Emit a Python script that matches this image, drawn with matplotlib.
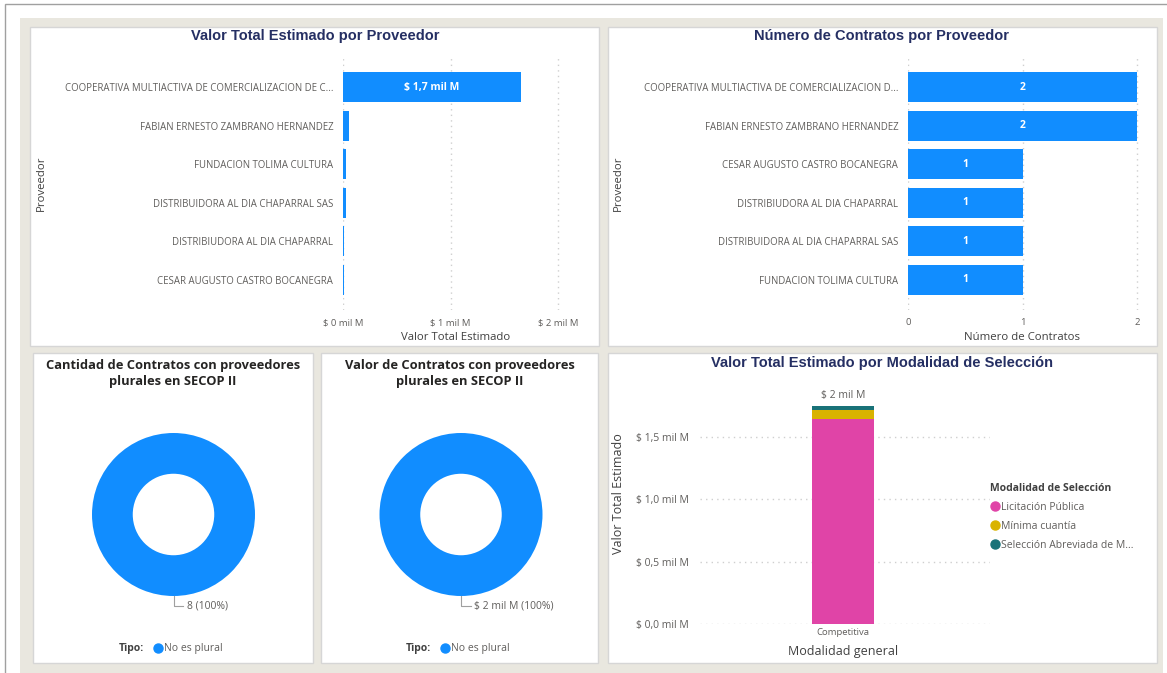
import matplotlib
matplotlib.use("Agg")
import matplotlib.pyplot as plt
from matplotlib.patches import Rectangle
from matplotlib.lines import Line2D
from matplotlib.legend import Legend
import numpy as np

# datos
proveedores_valor = ["COOPERATIVA MULTIACTIVA DE COMERCIALIZACION DE C...",
                     "FABIAN ERNESTO ZAMBRANO HERNANDEZ",
                     "FUNDACION TOLIMA CULTURA",
                     "DISTRIBUIDORA AL DIA CHAPARRAL SAS",
                     "DISTRIBIUDORA AL DIA CHAPARRAL",
                     "CESAR AUGUSTO CASTRO BOCANEGRA"]
valor_total = [1_655_000_000, 53_000_000, 25_000_000, 24_000_000, 8_000_000, 6_000_000]

proveedores_num = ["COOPERATIVA MULTIACTIVA DE COMERCIALIZACION D...",
                   "FABIAN ERNESTO ZAMBRANO HERNANDEZ",
                   "CESAR AUGUSTO CASTRO BOCANEGRA",
                   "DISTRIBIUDORA AL DIA CHAPARRAL",
                   "DISTRIBUIDORA AL DIA CHAPARRAL SAS",
                   "FUNDACION TOLIMA CULTURA"]
num_contratos = [2, 2, 1, 1, 1, 1]

modalidades = ["Licitación Pública", "Mínima cuantía", "Selección Abreviada de M..."]
modalidad_valor = [1_647_000_000, 72_000_000, 34_000_000]
modalidad_general = ["Competitiva"]

tipo_labels = ["No es plural"]
tipo_cantidad = [8]
tipo_valor = [1_753_000_000]

ticks_valor = [0, 1e9, 2e9]
ticks_num = [0, 1, 2]
ticks_mod = [0, 0.5e9, 1.0e9, 1.5e9]

# colores
AZUL = "#118DFF"
col_mod = ["#E044A7", "#D9B300", "#197278"]
BEIGE = "#E9E7DF"
GRIS = "#605E5C"
NAVY = "#252F63"
OSCURO = "#252423"

W, H = 1167, 673
plt.rcParams['font.family'] = ['Open Sans', 'DejaVu Sans']
fig = plt.figure(figsize=(W / 100, H / 100), dpi=100)


def px(x0, y0, x1, y1):
    # rect en pixeles (desde arriba) -> fraccion de figura
    return [x0 / W, 1 - y1 / H, (x1 - x0) / W, (y1 - y0) / H]


bg = fig.add_axes([0, 0, 1, 1])
bg.set_xlim(0, W)
bg.set_ylim(H, 0)
bg.axis("off")
bg.add_patch(Rectangle((5, 4), W, H, facecolor="white", edgecolor="#A0A0A0", lw=1))
bg.add_patch(Rectangle((20, 18), 1143, H, facecolor=BEIGE, edgecolor="none"))
paneles = [(30, 27, 599, 346), (608, 27, 1157, 346), (33, 353, 313, 663),
           (321, 353, 598, 663), (608, 353, 1157, 663)]
for (a, b, c, d) in paneles:
    bg.add_patch(Rectangle((a, b), c - a, d - b, facecolor="white", edgecolor="#D6D6D6", lw=1))

# titulos
bg.text(315, 36, "Valor Total Estimado por Proveedor", ha="center", va="center",
        fontsize=10.5, fontweight="bold", color=NAVY, family="Liberation Sans")
bg.text(882, 36, "Número de Contratos por Proveedor", ha="center", va="center",
        fontsize=10.5, fontweight="bold", color=NAVY, family="Liberation Sans")
bg.text(882, 363, "Valor Total Estimado por Modalidad de Selección", ha="center", va="center",
        fontsize=10.5, fontweight="bold", color=NAVY, family="Liberation Sans")
bg.text(173, 374, "Cantidad de Contratos con proveedores\nplurales en SECOP II", ha="center",
        va="center", fontsize=9.3, fontweight="bold", color=OSCURO, linespacing=1.3)
bg.text(460, 374, "Valor de Contratos con proveedores\nplurales en SECOP II", ha="center",
        va="center", fontsize=9.3, fontweight="bold", color=OSCURO, linespacing=1.3)


def fmt_mil(v, dec=0):
    s = f"{v / 1e9:.{dec}f}".replace(".", ",")
    return f"$ {s} mil M"


def barras_h(rect, cats, vals, xmax, ticks, ticklabels, etiquetas):
    ax = fig.add_axes(px(*rect))
    y = np.arange(len(cats))
    ax.barh(y, vals, height=0.78, color=AZUL, zorder=3)
    ax.set_xlim(0, xmax)
    ax.set_ylim(5.78, -0.83)
    ax.set_yticks(y)
    ax.set_yticklabels(cats, fontsize=6.9, color=GRIS)
    ax.set_xticks(ticks)
    ax.set_xticklabels(ticklabels, fontsize=6.8, color=GRIS)
    ax.tick_params(length=0, pad=7)
    ax.tick_params(axis="x", pad=6)
    ax.grid(axis="x", linestyle=(0, (1, 3)), color="#CFCFCF", lw=1, zorder=0)
    for s in ax.spines.values():
        s.set_visible(False)
    ax.set_facecolor("none")
    for yi, v, t in zip(y, vals, etiquetas):
        if t:
            ax.text(v / 2, yi, t, ha="center", va="center", color="white",
                    fontsize=7.5, fontweight="bold", zorder=4)
    return ax


esc1 = (562 - 343) / (558 - 343)
ax1 = barras_h((343, 55, 562, 310), proveedores_valor, valor_total, 2e9 * esc1, ticks_valor,
               [fmt_mil(t) for t in ticks_valor],
               [fmt_mil(valor_total[0], 1)] + [""] * 5)
esc2 = (1141 - 908) / (1137 - 908)
ax2 = barras_h((908, 55, 1141, 310), proveedores_num, num_contratos, 2 * esc2, ticks_num,
               [str(t) for t in ticks_num], [str(v) for v in num_contratos])

bg.text(456, 337, "Valor Total Estimado", ha="center", va="center", fontsize=8.2, color="#404040")
bg.text(1022, 337, "Número de Contratos", ha="center", va="center", fontsize=8.2, color="#404040")
bg.text(41, 183, "Proveedor", ha="center", va="center", rotation=90, fontsize=8.2, color="#404040")
bg.text(618, 183, "Proveedor", ha="center", va="center", rotation=90, fontsize=8.2, color="#404040")

# barra apilada
ax5 = fig.add_axes(px(700, 390, 990, 624))
base = 0
for m, v, c in zip(modalidades, modalidad_valor, col_mod):
    ax5.bar([0], [v], bottom=base, width=1, color=c, zorder=3, label=m)
    base += v
ax5.text(0, base + 0.04e9, fmt_mil(base), ha="center", va="bottom", fontsize=7.5, color=GRIS)
ax5.set_xlim(-2.31, 2.37)
ax5.set_ylim(0, 1.878e9)
ax5.set_yticks(ticks_mod)
ax5.set_yticklabels([fmt_mil(t, 1) for t in ticks_mod], fontsize=7.5, color=GRIS)
ax5.set_xticks([0])
ax5.set_xticklabels(modalidad_general, fontsize=6.8, color=GRIS)
ax5.tick_params(length=0, pad=8)
ax5.tick_params(axis="x", pad=3)
ax5.grid(axis="y", linestyle=(0, (1, 3)), color="#CFCFCF", lw=1, zorder=0)
for s in ax5.spines.values():
    s.set_visible(False)
ax5.set_facecolor("none")
bg.text(843, 652, "Modalidad general", ha="center", va="center", fontsize=9, color="#404040")
bg.text(618, 494, "Valor Total Estimado", ha="center", va="center", rotation=90,
        fontsize=9, color="#404040")
hand = [Line2D([], [], marker="o", ls="", color=c, markersize=6.5) for c in col_mod]
leg = ax5.legend(hand, modalidades, title="Modalidad de Selección", loc="upper left",
                 bbox_to_anchor=(985 / W, 1 - 478 / H), bbox_transform=fig.transFigure,
                 frameon=False, fontsize=7.5, title_fontsize=7.5, alignment="left",
                 handletextpad=0.1, labelspacing=0.75, handlelength=0.9, borderpad=0)
leg.get_title().set_fontweight("bold")
leg.get_title().set_color("#404040")
for t in leg.get_texts():
    t.set_color(GRIS)


# donas
def dona(cx, cy, vals, etiqueta):
    r = 81.5
    half = 100
    ax = fig.add_axes(px(cx - half, cy - half, cx + half, cy + half))
    ax.pie(vals, colors=[AZUL], radius=1, startangle=90, counterclock=False,
           wedgeprops=dict(width=0.5, edgecolor="none"))
    lim = half / r
    ax.set_xlim(-lim, lim)
    ax.set_ylim(-lim, lim)
    ax.plot([0, 0, 0.12], [-1.0, -1.12, -1.12], color="#A0A0A0", lw=0.8)
    ax.text(0.16, -1.12, etiqueta, ha="left", va="center", fontsize=7.5, color=GRIS)
    ax.axis("off")
    return ax


dona(173.5, 514.5, tipo_cantidad, f"{tipo_cantidad[0]} (100%)")
dona(461, 514.5, tipo_valor, fmt_mil(tipo_valor[0]) + " (100%)")

for x_tipo in (119, 406):
    bg.text(x_tipo, 649, "Tipo:", ha="left", va="center", fontsize=7.5,
            fontweight="bold", color="#404040")
    lg = Legend(bg, [Line2D([], [], marker="o", ls="", color=AZUL, markersize=6.5)], tipo_labels,
                loc="center left", bbox_to_anchor=((x_tipo + 29) / W, 1 - 649 / H),
                bbox_transform=fig.transFigure, frameon=False, fontsize=7.5,
                handletextpad=0.1, handlelength=0.9, borderpad=0)
    for t in lg.get_texts():
        t.set_color(GRIS)
    bg.add_artist(lg)

fig.savefig("out.png", dpi=100)
